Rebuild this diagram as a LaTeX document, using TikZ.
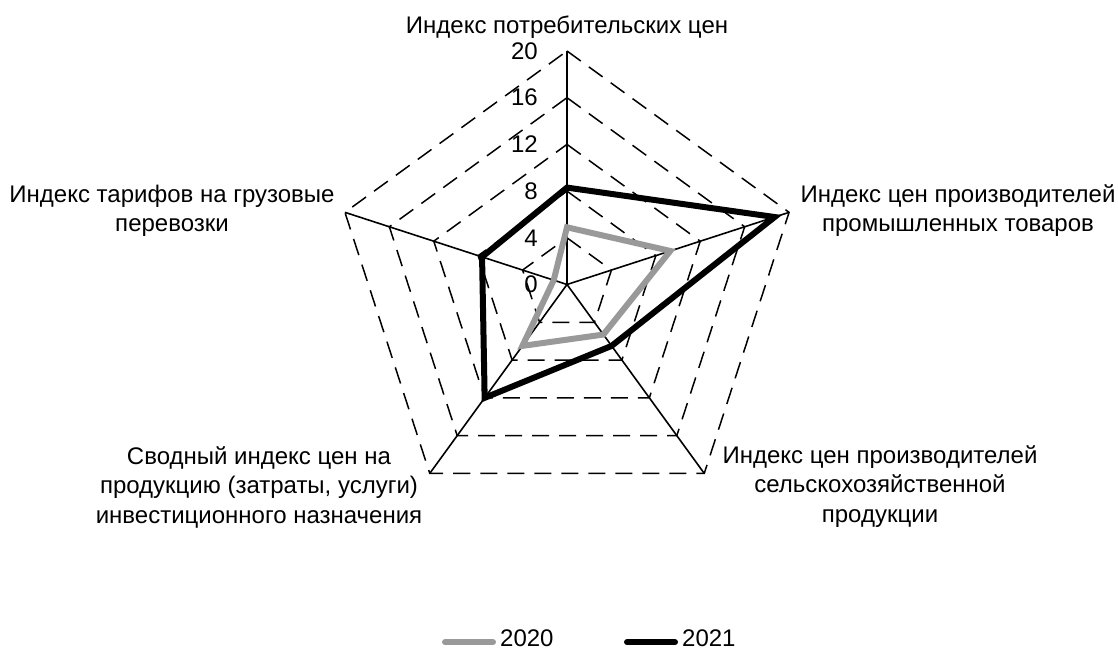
\documentclass[tikz,border=0pt]{standalone}
\usepackage{fontspec}
\setmainfont{Liberation Sans}
\definecolor{serGray}{RGB}{153,153,153}
\begin{document}
\begin{tikzpicture}[x=1pt,y=1pt,
  gridline/.style={line width=1.5pt, dash pattern=on 17pt off 10pt},
  axisline/.style={line width=1.6pt},
  serA/.style={line width=6pt, draw=serGray},
  serB/.style={line width=6pt, draw=black},
  lbl/.style={font=\fontsize{24}{29.5}\selectfont, inner sep=0pt, align=center},
  num/.style={font=\fontsize{24}{28}\selectfont, inner sep=0pt, anchor=east}]
\useasboundingbox (0,0) rectangle (1118,649);
\coordinate (O) at (567,364.5);
\def\u{11.675}
\begin{scope}[shift={(O)}]
  % grid pentagons
  \foreach \k in {4,8,12,16,20} {
    \draw[gridline] (90:{\k*\u}) -- (18:{\k*\u}) -- (-54:{\k*\u}) -- (-126:{\k*\u}) -- (162:{\k*\u}) -- cycle;
  }
  % axes
  \coordinate (a1) at (90:{20*\u});
  \coordinate (a2) at (18:{20*\u});
  \coordinate (a3) at (-54:{20*\u});
  \coordinate (a4) at (-126:{20*\u});
  \coordinate (a5) at (162:{20*\u});
  \foreach \a in {a1,a2,a3,a4,a5} { \draw[axisline] (O) -- (\a); }
  % series 2020
  \coordinate (p1) at (90:{4.9*\u});
  \coordinate (p2) at (18:{9.3*\u});
  \coordinate (p3) at (-54:{5.3*\u});
  \coordinate (p4) at (-126:{6.5*\u});
  \coordinate (p5) at (162:{1.2*\u});
  \draw[serA] (p1) -- (p2) -- (p3) -- (p4) -- (p5) -- cycle;
  % series 2021
  \coordinate (q1) at (90:{8.3*\u});
  \coordinate (q2) at (18:{18.7*\u});
  \coordinate (q3) at (-54:{6.5*\u});
  \coordinate (q4) at (-126:{12.0*\u});
  \coordinate (q5) at (162:{7.65*\u});
  \draw[serB] (q1) -- (q2) -- (q3) -- (q4) -- (q5) -- cycle;
\end{scope}
% scale numbers
\foreach \k in {0,4,8,12,16,20} {
  \node[num] (n\k) at (538,{364.5+\k*\u}) {\k};
}
% axis labels (base anchor = baseline of last line)
\node[lbl, anchor=base] (t1) at (567,615.7) {Индекс потребительских цен};
\node[lbl, anchor=base] (t2) at (958,417.3) {Индекс цен производителей\\промышленных товаров};
\node[lbl, anchor=base] (t3) at (880,127) {Индекс цен производителей\\сельскохозяйственной\\продукции};
\node[lbl, anchor=base] (t4) at (259,126) {Сводный индекс цен на\\продукцию (затраты, услуги)\\инвестиционного назначения};
\node[lbl, anchor=base] (t5) at (172,417.3) {Индекс тарифов на грузовые\\перевозки};
% legend
\coordinate (l1s) at (445,6.8);
\coordinate (l1e) at (493,6.8);
\draw[serA, line cap=round] (l1s) -- (l1e);
\node[lbl, anchor=base west] (g1) at (500,3) {2020};
\coordinate (l2s) at (627,6.8);
\coordinate (l2e) at (675,6.8);
\draw[serB, line cap=round] (l2s) -- (l2e);
\node[lbl, anchor=base west] (g2) at (682,3) {2021};
\end{tikzpicture}
\end{document}
